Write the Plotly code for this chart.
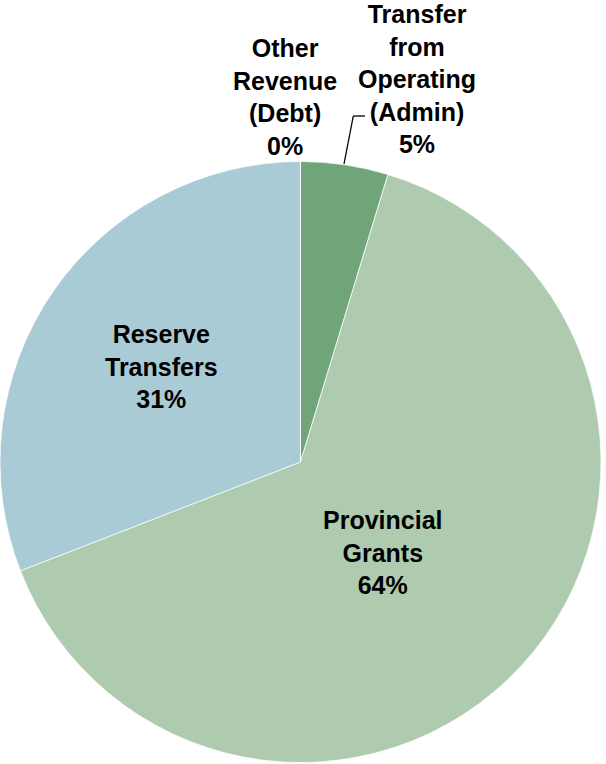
import plotly.graph_objects as go

# Capital funding sources (share of total)
labels = ["Transfer from Operating (Admin)", "Provincial Grants", "Reserve Transfers", "Other Revenue (Debt)"]
label_lines = [
    ["Transfer", "from", "Operating", "(Admin)"],
    ["Provincial", "Grants"],
    ["Reserve", "Transfers"],
    ["Other", "Revenue", "(Debt)"],
]
values = [4.7, 64.4, 30.9, 0.0]
colors = ["#70A479", "#AFCBAF", "#A8CBD5", "#8FB3C4"]

W, H = 606, 764

fig = go.Figure()
fig.add_trace(go.Pie(
    labels=labels,
    values=values,
    sort=False,
    direction="clockwise",
    rotation=0,
    textinfo="none",
    hoverinfo="label+percent",
    marker=dict(colors=colors, line=dict(color="rgba(255,255,255,0.7)", width=1)),
    domain=dict(x=[0, 601 / W], y=[1 / H, 603 / H]),
    showlegend=False,
))

total = sum(values)

# label anchor points in pixels (centre of each text block)
label_pos = [(417, 79), (383, 552), (161, 366), (285, 97)]

annotations = []
for lines, v, (px, py) in zip(label_lines, values, label_pos):
    pct = round(100 * v / total)
    text = "<br>".join(lines + [f"{pct}%"])
    annotations.append(dict(
        x=px / W, y=1 - py / H, xref="paper", yref="paper",
        text=text, showarrow=False, xanchor="center", yanchor="middle",
        align="center",
        font=dict(family="Liberation Sans, Arial, sans-serif", size=25,
                  color="#000000", weight="bold"),
    ))

# leader line for the small "Transfer from Operating" slice
leader = [(365, 116), (353.3, 116), (344, 164)]
shapes = []
for (x0, y0), (x1, y1) in zip(leader[:-1], leader[1:]):
    shapes.append(dict(
        type="line", xref="paper", yref="paper",
        x0=x0 / W, y0=1 - y0 / H, x1=x1 / W, y1=1 - y1 / H,
        line=dict(color="#000000", width=1.3),
    ))

fig.update_layout(
    width=W, height=H,
    margin=dict(l=0, r=0, t=0, b=0),
    paper_bgcolor="#FFFFFF",
    plot_bgcolor="#FFFFFF",
    annotations=annotations,
    shapes=shapes,
)

fig.write_html("out.html")
